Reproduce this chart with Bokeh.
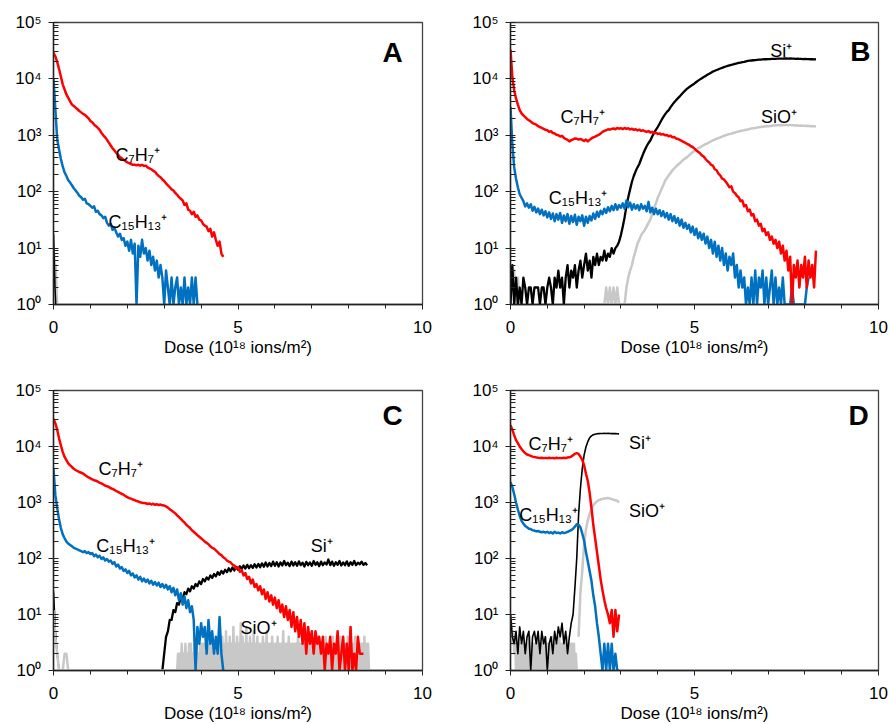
import numpy as np
from bokeh.plotting import figure
from bokeh.layouts import row, column
from bokeh.models import FixedTicker, Label, Range1d
from bokeh.embed import file_html
from bokeh.resources import INLINE

# ---------------- data (counts) ----------------
DOSE_STEP = 0.05      # sampling interval of the dose axis (10^18 ions/m^2)
FINE_STEP = 0.025     # finer sampling used for the dense noisy SiO+ baselines

# Panel A
A_C7H7 = [29000, 25000, 20000, 15000, 11000, 8000, 6500, 5300, 4600, 4000,
          3500, 3300, 3100, 2900, 2700, 2550, 2400, 2300, 2150, 2000,
          1800, 1700, 1550, 1450, 1350, 1250, 1100, 1000, 920, 830,
          740, 660, 590, 540, 490, 450, 410, 390, 370, 350,
          330, 320, 310, 300, 300, 295, 300, 290, 300, 285,
          290, 270, 260, 250, 235, 225, 205, 190, 180, 165,
          155, 140, 130, 120, 110, 105, 95, 88, 80, 75,
          70, 58, 62, 48, 46, 40, 44, 36, 38, 32,
          31, 27, 25, 24, 20, 22, 16, 19, 14, 11,
          13, 8, 7]
A_C15H13 = [10000, 2900, 850, 560, 380, 280, 220, 190, 160, 145,
            130, 115, 105, 95, 85, 80, 72, 75, 62, 60,
            56, 52, 55, 44, 46, 40, 38, 34, 36, 28,
            25, 27, 21, 23, 19, 16, 18, 14, 15, 11,
            13, 9, 14, 8, 12, 1, 11, 7, 14, 8,
            10, 6, 9, 5, 7, 4, 6, 3, 5, 3,
            1, 4, 2, 1, 3, 1, 2, 3, 1, 2,
            1, 3, 1, 2, 1, 3, 1, 3, 1]
A_Si_start, A_Si_step = 0.0, 0.02
A_Si = [18, 6, 2, 1]
A_SiO_start, A_SiO_step = 0.02, 0.02
A_SiO = [8, 3, 5, 2, 1]

# Panel B
B_C7H7 = [33000, 11000, 6300, 4500, 3500, 2800, 2450, 2250, 2100, 1950,
          1850, 1750, 1650, 1600, 1550, 1450, 1400, 1350, 1300, 1250,
          1230, 1150, 1180, 1100, 1080, 1020, 1000, 950, 980, 900,
          860, 830, 780, 820, 850, 880, 870, 840, 860, 830,
          790, 840, 780, 830, 880, 920, 950, 990, 1020, 1080,
          1150, 1200, 1230, 1280, 1260, 1300, 1320, 1280, 1350, 1310,
          1340, 1290, 1350, 1300, 1330, 1270, 1310, 1250, 1280, 1220,
          1260, 1200, 1230, 1180, 1150, 1190, 1120, 1150, 1090, 1110,
          1060, 1080, 1030, 1050, 1000, 1010, 960, 980, 920, 930,
          880, 860, 830, 800, 760, 740, 700, 680, 640, 620,
          580, 540, 510, 480, 440, 420, 380, 350, 330, 300,
          290, 250, 240, 210, 195, 170, 165, 150, 135, 120,
          125, 100, 95, 85, 80, 68, 70, 55, 58, 45,
          48, 38, 40, 30, 32, 25, 27, 20, 22, 17,
          19, 14, 16, 12, 14, 10, 13, 8, 11, 6,
          9, 4, 7, 1, 5, 3, 6, 2, 5, 3,
          7, 2, 6, 3, 5, 2, 9]
B_C15H13 = [3200, 700, 270, 170, 120, 90, 78, 68, 55, 62,
            52, 60, 46, 54, 43, 50, 40, 48, 38, 45,
            35, 43, 33, 41, 30, 40, 32, 42, 28, 38,
            30, 40, 27, 37, 29, 39, 26, 36, 30, 38,
            25, 36, 28, 37, 31, 41, 33, 44, 36, 46,
            40, 50, 42, 53, 45, 56, 47, 60, 48, 58,
            52, 62, 50, 70, 53, 64, 48, 60, 50, 58,
            47, 60, 50, 56, 45, 66, 43, 52, 40, 50,
            40, 47, 37, 45, 35, 42, 32, 40, 30, 37,
            28, 34, 25, 32, 23, 28, 22, 26, 19, 24,
            17, 22, 15, 19, 14, 18, 12, 16, 10, 14,
            8, 13, 7, 11, 6, 10, 5, 8, 4, 7,
            5, 8, 3, 5, 2, 4, 2, 3, 1, 2,
            1, 3, 1, 4, 1, 3, 2, 4, 1, 3,
            1, 2, 4, 1, 3, 1, 2, 1, 3, 1,
            1, 1, 1, 2, 1, 1, 1, 1, 1, 1,
            1, 2, 3]
B_Si = [1, 5, 1, 3, 1, 2, 1, 3, 2, 1,
        2, 2, 1, 2, 2, 2, 1, 2, 2, 1,
        2, 3, 2, 1, 3, 2, 4, 2, 3, 1,
        3, 5, 2, 4, 3, 5, 2, 4, 6, 3,
        5, 8, 4, 6, 3, 7, 5, 8, 5, 7,
        6, 9, 6, 8, 7, 10, 8, 10, 11, 13,
        17, 24, 35, 55, 80, 110, 150, 190, 230, 270,
        310, 380, 460, 550, 640, 730, 810, 950, 1100, 1250,
        1400, 1600, 1850, 2100, 2350, 2600, 2800, 3150, 3500, 3850,
        4200, 4550, 4900, 5350, 5800, 6250, 6700, 7100, 7500, 7900,
        8300, 8800, 9300, 9800, 10300, 10800, 11300, 11800, 12300, 12900,
        13500, 13900, 14400, 14800, 15300, 15700, 16200, 16600, 17000, 17400,
        17800, 18100, 18500, 18800, 19200, 19500, 19800, 20100, 20500, 20800,
        21000, 21200, 21400, 21600, 21800, 21900, 22000, 22200, 22300, 22300,
        22400, 22500, 22600, 22600, 22700, 22800, 22800, 22900, 22900, 23000,
        23000, 22900, 23000, 22800, 22900, 22700, 22800, 22600, 22700, 22500,
        22600, 22400, 22500, 22300, 22400, 22200, 22300]
B_SiO = [5, 2, 4, 1, 3, 1, 1, 1, 1, 1,
         1, 1, 1, 1, 1, 1, 1, 1, 1, 1,
         1, 1, 1, 1, 1, 1, 1, 1, 1, 1,
         1, 1, 1, 1, 1, 1, 1, 1, 1, 1,
         1, 1, 1, 1, 1, 1, 1, 1, 1, 1,
         1, 1, 2, 1, 2, 1, 2, 1, 2, 1,
         1, 1, 1, 2, 3, 4, 5, 7, 9, 12,
         14, 17, 19, 21, 24, 28, 32, 40, 50, 62,
         78, 92, 110, 130, 155, 175, 195, 215, 240, 260,
         280, 300, 320, 345, 370, 390, 410, 440, 470, 500,
         530, 560, 590, 610, 640, 670, 700, 720, 750, 780,
         810, 840, 870, 890, 920, 950, 980, 1000, 1030, 1050,
         1070, 1100, 1120, 1150, 1170, 1190, 1210, 1230, 1250, 1270,
         1300, 1320, 1340, 1350, 1370, 1390, 1400, 1420, 1430, 1440,
         1450, 1460, 1480, 1490, 1500, 1510, 1500, 1520, 1510, 1530,
         1520, 1510, 1530, 1500, 1510, 1490, 1500, 1480, 1490, 1470,
         1480, 1460, 1470, 1450, 1460, 1440, 1450]

# Panel C
C_C7H7 = [31000, 26000, 20000, 14000, 10500, 8000, 6500, 5700, 5000, 4600,
          4300, 4000, 3800, 3650, 3500, 3400, 3300, 3100, 2950, 2800,
          2700, 2600, 2500, 2450, 2350, 2250, 2200, 2100, 2000, 1950,
          1900, 1800, 1750, 1680, 1600, 1550, 1480, 1420, 1380, 1300,
          1250, 1200, 1170, 1130, 1100, 1060, 1040, 1010, 990, 980,
          970, 940, 960, 920, 950, 910, 930, 900, 920, 890,
          880, 850, 810, 760, 720, 680, 640, 590, 550, 510,
          470, 440, 400, 375, 350, 320, 300, 280, 260, 245,
          230, 215, 200, 190, 180, 165, 155, 150, 140, 130,
          120, 115, 105, 100, 92, 88, 85, 78, 75, 66,
          70, 58, 62, 50, 55, 43, 47, 36, 42, 31,
          35, 27, 32, 23, 28, 19, 25, 17, 22, 15,
          20, 13, 18, 11, 15, 9, 14, 8, 12, 6,
          11, 5, 9, 4, 8, 3, 7, 2, 6, 3,
          5, 2, 5, 3, 4, 2, 4, 1, 3, 2,
          4, 1, 3, 2, 5, 1, 2, 4, 1, 3,
          1, 6, 1, 2, 1, 4, 2, 2, 2]
C_C15H13 = [4000, 1350, 800, 500, 350, 270, 230, 200, 185, 175,
            165, 155, 150, 145, 140, 135, 130, 135, 125, 130,
            120, 125, 110, 118, 105, 112, 98, 105, 92, 98,
            88, 92, 80, 86, 72, 78, 66, 70, 60, 64,
            55, 60, 50, 54, 46, 50, 42, 47, 39, 44,
            38, 42, 36, 40, 34, 38, 33, 37, 31, 35,
            30, 34, 28, 32, 25, 30, 22, 28, 18, 24,
            15, 21, 13, 18, 11, 14, 8, 1, 6, 3,
            7, 4, 6, 2, 8, 3, 5, 2, 4, 2,
            9, 2, 1]
C_Si_early = [26, 5, 2, 1, 1]          # starts at dose 0
C_Si_start = 2.95
C_Si = [1, 2, 4, 5, 8, 8, 12, 11, 16, 15,
        21, 19, 25, 23, 29, 26, 32, 29, 35, 32,
        39, 35, 43, 39, 46, 42, 50, 45, 53, 48,
        57, 51, 60, 54, 63, 57, 67, 59, 69, 61,
        71, 63, 73, 65, 75, 66, 77, 67, 76, 68,
        79, 69, 80, 70, 82, 71, 85, 72, 83, 73,
        88, 74, 86, 72, 85, 75, 90, 76, 84, 73,
        88, 75, 86, 74, 89, 76, 84, 72, 87, 76,
        85, 74, 90, 77, 86, 73, 88, 76, 85, 78,
        96, 76, 88, 74, 86, 77, 90, 75, 85, 76,
        89, 74, 86, 77, 90, 76, 84, 79, 88, 77,
        83, 76]
C_SiO_early = [12, 4, 2, 1, 1, 1, 2, 2, 1, 1,
               1, 1, 1, 1, 1, 1, 1, 1, 1, 1,
               1, 1, 1, 1, 1, 1, 1, 1, 1, 1,
               1, 1, 1, 1, 1, 1, 1, 1, 1, 1,
               1, 1, 1, 1, 1, 1, 1, 1, 1, 1,
               1, 1, 1, 1, 1, 1, 1, 1, 1, 1,
               1, 1, 1, 1, 1, 1, 1]        # dose 0 .. 3.30
C_SiO_late_start = 3.35                    # sampled every FINE_STEP
C_SiO_late = [1, 2, 1, 2, 1, 3, 1, 2, 1, 3, 1, 2, 1, 3, 1, 3, 1, 2, 1, 3, 1, 3, 1, 2, 1, 3, 1,
              3, 1, 3, 1, 2, 1, 3, 1, 3, 1, 4, 1, 3, 1, 2, 1, 3, 1, 3, 1,
              3, 1, 4, 1, 3, 1, 5, 1, 3, 1, 4, 1, 3, 1, 6, 1, 3, 1, 4, 1,
              3, 1, 7, 1, 4, 1, 3, 1, 6, 1, 3, 1, 4, 1, 3, 1, 5, 1, 3, 1,
              4, 1, 3, 1, 3, 1, 4, 1, 3, 1, 5, 1, 3, 1, 3, 1, 4, 1, 3, 1,
              3, 1, 4, 1, 3, 1, 3, 1, 5, 1, 3, 1, 3, 1, 4, 1, 3, 1, 3, 1,
              3, 1, 3, 1, 4, 1, 3, 1, 3, 1, 3, 1, 5, 1, 3, 1, 3, 1, 4, 1,
              3, 1, 3, 1, 3, 1, 4, 1, 3, 1, 3, 1, 3, 1, 4, 1, 3, 1, 3, 1,
              3, 1, 4, 1, 3, 1, 3, 1, 3, 1, 4, 1, 3, 1, 3, 1, 3, 1, 4, 1,
              3, 1, 3, 1, 3, 1, 4, 1, 3, 1, 3, 1, 3, 1, 3, 1, 4, 1, 3, 1, 3, 1]

# Panel D
D_C7H7 = [24000, 20000, 16000, 13000, 11500, 10000, 9000, 8200, 7600, 7200,
          7000, 6800, 6600, 6500, 6400, 6300, 6250, 6300, 6200, 6250,
          6200, 6300, 6200, 6250, 6150, 6300, 6200, 6250, 6200, 6300,
          6200, 6350, 6400, 6600, 7000, 7400, 7600, 7400, 6600, 5800,
          4600, 3300, 2450, 1500, 800, 400, 230, 130, 75, 42,
          27, 18, 13, 10, 7, 12, 4, 12, 5, 10]
D_C15H13 = [2300, 1900, 1400, 1000, 750, 580, 470, 420, 380, 360,
            340, 335, 320, 315, 305, 310, 300, 295, 300, 290,
            300, 285, 295, 280, 300, 285, 290, 280, 295, 285,
            290, 300, 310, 320, 340, 370, 410, 400, 360, 280,
            210, 130, 89, 60, 40, 22, 14, 7, 4, 2,
            1, 3, 1, 3, 1, 3, 1, 2, 1, 1]
D_Si = [10, 4, 3, 5, 2, 6, 3, 5, 2, 4,
        5, 1, 4, 5, 3, 5, 2, 5, 3, 4,
        1, 3, 4, 2, 5, 3, 6, 4, 7, 3,
        5, 2, 4, 7, 10, 30, 100, 600, 1800, 4000,
        7000, 9800, 12200, 14300, 15500, 16200, 16600, 16900, 17000, 17100,
        17100, 17200, 17100, 17200, 17100, 17000, 17100, 17000, 16900, 16800]
D_SiO_early = [10, 6, 3, 5, 2, 4, 1, 3, 1, 3,
               1, 3, 1, 4, 1, 3, 1, 3, 1, 3,
               1, 4, 1, 3, 1, 3, 1, 3, 1, 4,
               1, 3, 1, 3, 1, 3, 1, 4, 1, 3,
               1, 3, 1, 3, 1, 4, 1, 3, 1, 3,
               1, 3, 1, 4, 1, 3, 1, 3, 1, 3,
               1, 4, 1, 3, 1, 3, 1, 3, 1, 3,
               1, 2, 1]                    # dose 0 .. 1.80, every FINE_STEP
D_SiO_late_start = 1.85
D_SiO_late = [4, 25, 60, 180, 330, 480, 630, 780, 900, 980, 1050, 1100, 1130,
              1160, 1180, 1190, 1200, 1180, 1150, 1120, 1100, 1080, 1000]

# ---------------- styling ----------------
FONT = "Liberation Sans"
COLORS = {"SiO": "#C8C8C8", "Si": "#000000", "C15H13": "#0070C0", "C7H7": "#FF0000"}
Y_LABELS = {1: "10\u2070", 10: "10\u00b9", 100: "10\u00b2", 1000: "10\u00b3",
            10000: "10\u2074", 100000: "10\u2075"}
X_TITLE = "Dose (10\u00b9\u2078 ions/m\u00b2)"
C7 = "C\u2087H\u2087\u207a"
C15 = "C\u2081\u2085H\u2081\u2083\u207a"
SI = "Si\u207a"
SIO = "SiO\u207a"


def dose(start, n, step=DOSE_STEP):
    return np.round(start + step * np.arange(n), 3)


def make_panel(frame_w, frame_h, borders):
    left, right, top, bottom = borders
    p = figure(frame_width=frame_w, frame_height=frame_h, output_backend="svg",
               toolbar_location=None, y_axis_type="log",
               x_range=Range1d(0, 10), y_range=Range1d(1, 1e5),
               min_border_left=left, min_border_right=right,
               min_border_top=top, min_border_bottom=bottom)
    p.xgrid.visible = False
    p.ygrid.visible = False
    p.outline_line_color = "#444444"
    p.outline_line_width = 1.3
    p.background_fill_color = "white"
    p.border_fill_color = "white"

    p.xaxis.ticker = FixedTicker(ticks=[0, 5, 10], minor_ticks=[1, 2, 3, 4, 6, 7, 8, 9])
    p.yaxis.ticker = FixedTicker(ticks=list(Y_LABELS.keys()),
                                 minor_ticks=[m * 10 ** d for d in range(5) for m in range(2, 10)])
    p.yaxis.major_label_overrides = Y_LABELS
    for ax in p.axis:
        ax.axis_line_color = "#222222"
        ax.axis_line_width = 1.4
        ax.major_tick_line_color = "#222222"
        ax.minor_tick_line_color = "#222222"
        ax.major_label_text_font = FONT
        ax.major_label_text_font_size = "17px"
        ax.major_label_text_color = "black"
    p.yaxis.major_tick_in = 5
    p.yaxis.major_tick_out = 5
    p.yaxis.minor_tick_in = 5
    p.yaxis.minor_tick_out = 0
    p.yaxis.major_label_standoff = 7
    p.xaxis.major_tick_in = 0
    p.xaxis.major_tick_out = 5
    p.xaxis.minor_tick_in = 0
    p.xaxis.minor_tick_out = 4
    p.xaxis.major_label_standoff = 11
    p.xaxis.axis_label = X_TITLE
    p.xaxis.axis_label_text_font = FONT
    p.xaxis.axis_label_text_font_size = "17px"
    p.xaxis.axis_label_text_font_style = "normal"
    p.xaxis.axis_label_text_color = "black"
    p.xaxis.axis_label_standoff = 2
    return p


def add_series(p, x, y, key, lw=2.5):
    p.line(x, y, line_color=COLORS[key], line_width=lw, line_join="round")


def add_text(p, x, y, text, size="18px", bold=False, align="left"):
    p.add_layout(Label(x=x, y=y, text=text, text_font=FONT, text_font_size=size,
                       text_font_style="bold" if bold else "normal",
                       text_align=align, text_baseline="middle", text_color="black"))


# ---------------- panel A ----------------
pA = make_panel(369, 282, (53, 20, 22, 60))
add_series(pA, dose(A_SiO_start, len(A_SiO), A_SiO_step), A_SiO, "SiO")
add_series(pA, dose(A_Si_start, len(A_Si), A_Si_step), A_Si, "Si", 1.6)
add_series(pA, dose(0.0, len(A_C15H13)), A_C15H13, "C15H13")
add_series(pA, dose(0.0, len(A_C7H7)), A_C7H7, "C7H7")
add_text(pA, 1.68, 450, C7)
add_text(pA, 1.49, 29, C15)
add_text(pA, 9.19, 29500, "A", "28px", True, "center")

# ---------------- panel B ----------------
pB = make_panel(368, 282, (68, 10, 22, 60))
add_series(pB, dose(0.0, len(B_SiO)), B_SiO, "SiO")
add_series(pB, dose(0.0, len(B_Si)), B_Si, "Si", 2.3)
add_series(pB, dose(0.0, len(B_C15H13)), B_C15H13, "C15H13")
add_series(pB, dose(0.0, len(B_C7H7)), B_C7H7, "C7H7")
add_text(pB, 7.06, 31600, SI)
add_text(pB, 6.81, 2140, SIO)
add_text(pB, 1.36, 2090, C7)
add_text(pB, 1.04, 76, C15)
add_text(pB, 9.51, 30000, "B", "28px", True, "center")

# ---------------- panel C ----------------
pC = make_panel(369, 280, (53, 20, 26, 54))
add_series(pC, dose(0.0, len(C_Si_early)), C_Si_early, "Si", 1.6)
add_series(pC, dose(C_Si_start, len(C_Si)), C_Si, "Si", 2.3)
add_series(pC, dose(0.0, len(C_SiO_early)), C_SiO_early, "SiO")
add_series(pC, dose(C_SiO_late_start, len(C_SiO_late), FINE_STEP), C_SiO_late, "SiO")
add_series(pC, dose(0.0, len(C_C15H13)), C_C15H13, "C15H13")
add_series(pC, dose(0.0, len(C_C7H7)), C_C7H7, "C7H7")
add_text(pC, 1.22, 4000, C7)
add_text(pC, 1.16, 166, C15)
add_text(pC, 6.97, 170, SI)
add_text(pC, 5.07, 5.75, SIO)
add_text(pC, 9.19, 36000, "C", "28px", True, "center")

# ---------------- panel D ----------------
pD = make_panel(368, 280, (68, 10, 26, 54))
add_series(pD, dose(0.0, len(D_SiO_early), FINE_STEP), D_SiO_early, "SiO")
add_series(pD, dose(D_SiO_late_start, len(D_SiO_late)), D_SiO_late, "SiO")
add_series(pD, dose(0.0, len(D_Si)), D_Si, "Si", 1.6)
add_series(pD, dose(0.0, len(D_C15H13)), D_C15H13, "C15H13")
add_series(pD, dose(0.0, len(D_C7H7)), D_C7H7, "C7H7")
add_text(pD, 0.49, 11200, C7)
add_text(pD, 0.24, 600, C15)
add_text(pD, 3.22, 11700, SI)
add_text(pD, 3.22, 700, SIO)
add_text(pD, 9.46, 35500, "D", "28px", True, "center")

layout = column(row(pA, pB), row(pC, pD))
open("out.html", "w").write(file_html(layout, INLINE))
